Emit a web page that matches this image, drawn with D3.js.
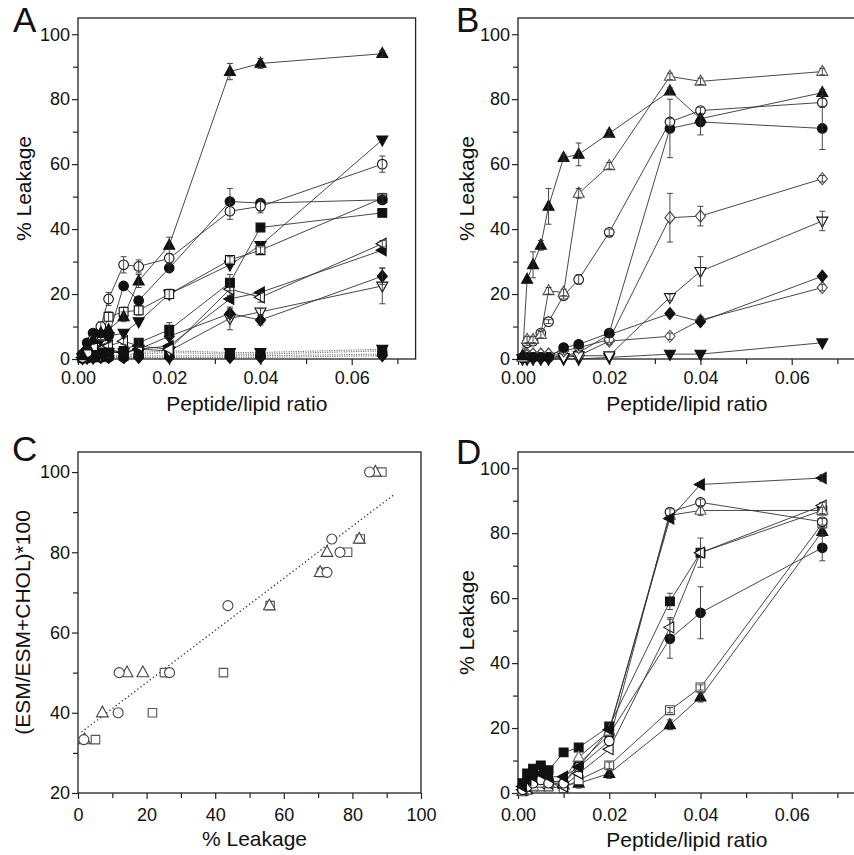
<!DOCTYPE html>
<html>
<head>
<meta charset="utf-8">
<script src="https://cdn.jsdelivr.net/npm/d3@7"></script>
<style>
  body { margin: 0; background: #fff; }
  svg text { font-family: "Liberation Sans", Arial, Helvetica, sans-serif; fill: #111; }
</style>
</head>
<body>
<div id="chart"></div>
<script>
const width = 854;
const height = 855;

// peptide/lipid ratios used in A, B and D
const ratioX = [0.001, 0.002, 0.0033, 0.005, 0.0067, 0.01, 0.0133, 0.02, 0.0333, 0.04, 0.0667];

// panel A (% leakage)
const aTriUpFill = [1, 4, 6, 8, 9, 13, 24, 35, 88.5, 91, 94];
const aTriUpFillErr = [0, 0, 0, 0, 0, 1.5, 2, 2.5, 2.5, 1.5, 1];
const aCircOpen = [0.5, 2, 6, 10, 18.5, 29, 28.5, 31, 45.5, 47, 60];
const aCircOpenErr = [0, 0, 0, 1.5, 2, 2.5, 2, 1.5, 2.5, 2, 2.5];
const aCircFill = [1.5, 5, 8, 8, 7, 22.5, 18, 28, 48.5, 48, 49];
const aCircFillErr = [0, 0, 0, 0, 0, 0, 0, 1, 4, 1, 1];
const aSqOpen = [0.5, 2, 4, 7, 13, 14.5, 15, 20, 30.5, 33.5, 49.5];
const aSqOpenErr = [0, 0, 0, 1, 1.5, 1.5, 1.5, 1.5, 1, 1, 1.5];
const aTriDownFill = [0.5, 2, 4, 6, 7, 8, 11.5, 20, 29, 35, 67.5];
const aSqFill = [0.5, 1, 1, 2, 2, 2.5, 5, 9, 23.5, 40.5, 45];
const aSqFillErr = [0, 0, 0, 0, 0, 0, 1.2, 2.2, 2.5, 0, 0];
const aTriLeftOpen = [0.5, 1, 2, 3, 4, 5.5, 4, 3, 21.5, 19, 35.5];
const aTriLeftOpenErr = [0, 0, 0, 0, 1, 1, 0, 0, 2, 1.5, 1];
const aTriLeftFill = [0.5, 1, 1, 1, 2, 2, 3, 4, 18.5, 20.5, 33.5];
const aDiamFill = [0.5, 1, 2, 3, 3, 2, 3, 7, 14, 12, 25.5];
const aDiamFillErr = [0, 0, 0, 0, 0, 0, 0, 0, 1.5, 1.5, 2.5];
const aTriDownOpen = [0.3, 1, 1, 1, 2, 2, 3, 2.5, 12.5, 14.5, 22.5];
const aTriDownOpenErr = [0, 0, 0, 0, 0, 0, 0, 0, 3.5, 1, 5.5];
const aDotSq = [0.3, 0.5, 0.5, 0.8, 1, 1, 1.5, 2, 1.5, 1.5, 2.5];
const aDotTri = [0.3, 0.5, 0.8, 1, 1, 1, 2, 2.5, 2, 2, 3];
const aDotCirc = [0.2, 0.3, 0.5, 0.5, 0.5, 0.5, 1, 1, 1, 1, 1.5];
const aDotDiam = [0.2, 0.3, 0.3, 0.5, 0.5, 0.5, 0.5, 0.5, 0.5, 0.5, 1];

// panel B
const bTriUpFill = [1, 24.5, 29, 35, 47, 62, 63, 69.5, 82.5, 74, 82];
const bTriUpFillErr = [0, 0, 4, 1.5, 5.5, 1, 3.5, 1, 1, 1, 1];
const bTriUpOpen = [0.5, 6, 6, 7.5, 21, 20.5, 51, 59.5, 87, 85.5, 88.5];
const bTriUpOpenErr = [0, 1, 1, 1, 1, 1, 1.5, 1, 1, 1, 1];
const bCircOpen = [0.5, 5, 5.5, 8, 11.5, 19.5, 24.5, 39, 73, 76.5, 79];
const bCircOpenErr = [0, 0.8, 0.8, 0.8, 0.6, 1, 1.5, 1, 1, 1, 1.2];
const bCircFill = [0.3, 0.5, 0.5, 0.5, 0.5, 3.5, 4.5, 8, 71, 73, 71];
const bCircFillErr = [0, 0, 0, 0, 0, 0, 0, 1, 9, 4, 6.5];
const bDiamOpen = [0.3, 1, 1.5, 1.5, 1.5, 2.5, 3.5, 6, 43.5, 44, 55.5];
const bDiamOpenErr = [0, 0.5, 0.5, 0.5, 0.5, 1, 1, 1, 7.5, 3, 1];
const bTriDownOpen = [0.2, 0.3, 0.3, 0.3, 0.3, 0.5, 1, 1, 19, 27, 42.5];
const bTriDownOpenErr = [0, 0, 0, 0, 0, 0, 0, 0, 1, 4.5, 3];
const bDiamFill = [0.3, 0.5, 0.5, 0.5, 0.5, 1, 2, 7.5, 14, 11.5, 25.5];
const bDiamOpen2 = [0.3, 1.5, 1.5, 1.5, 1.5, 1, 1, 5.5, 7, 12, 22];
const bDiamOpen2Err = [0, 0.5, 0.5, 0.5, 0.5, 0.5, 0.5, 1, 1, 1, 1];
const bTriDownFill = [0, 0, 0, 0, 0, 0, 0, 0.5, 1.5, 1.5, 5];

// panel C (scatter: % leakage vs ESM fraction)
const cEsmLevels = [50, 50, 40, 33.3, 66.7, 75, 80, 83.3, 100];
const cLeakCirc = [12, 26.7, 11.7, 1.7, 43.7, 72.6, 76.4, 74, 85];
const cLeakTri = [14.3, 18.9, 7.1, 1.9, 55.8, 70.6, 72.6, 82, 86.7];
const cLeakSq = [25.2, 42.4, 21.7, 5.1, 56, 71, 78.6, 82.3, 88.6];
const cFitX = [1, 92];
const cFitY = [35.2, 94.3];

// panel D
const dTriLeftFill = [2, 4, 5, 6, 5, 5, 8, 19.5, 84.5, 95, 97];
const dTriLeftFillErr = [0, 0, 0, 0, 0, 0, 0, 0, 0, 0, 1];
const dCircOpen = [1, 2, 3, 4, 3, 3, 8, 16, 86.5, 89.5, 83.5];
const dCircOpenErr = [0, 0, 0, 0, 0, 0, 0, 0, 1, 1, 1];
const dTriUpOpen = [1, 2, 2, 3, 3, 4, 11, 19, 85.5, 87, 87];
const dTriUpOpenErr = [0, 0, 0, 0, 0, 0, 0, 0, 1, 1.5, 1];
const dSqFill = [3, 6, 7.5, 8.5, 7, 12.5, 14, 20.5, 59, 74, 87];
const dSqFillErr = [0, 0, 0, 0, 0, 0, 0, 1, 2.5, 1, 1];
const dTriLeftOpen = [1, 2, 3, 3, 3, 2, 6, 13.5, 51, 74, 88.5];
const dTriLeftOpenErr = [0, 0, 0, 0, 0, 0, 0, 0, 3, 4.5, 1];
const dCircFill = [1, 3, 4, 5, 4, 3, 9, 18, 47.5, 55.5, 75.5];
const dCircFillErr = [0, 0, 0, 0, 0, 0, 0, 0, 6, 8, 4];
const dSqOpen = [0.5, 1, 2, 2, 2, 1.5, 4, 8.5, 25.5, 32.5, 83];
const dSqOpenErr = [0, 0, 0, 0, 0, 0, 0, 1, 0.8, 0.8, 1];
const dTriUpFill = [0.5, 1, 2, 3, 3, 2.5, 3, 6, 21, 29.5, 80.5];
const dTriUpFillErr = [0, 0, 0, 0, 0, 0, 1.5, 1.5, 1.5, 1.5, 1.5];

const ratioTicks = [0, 0.02, 0.04, 0.06];
const ratioMinor = [0.01, 0.03, 0.05, 0.07];
const leakTicks = [0, 20, 40, 60, 80, 100];
const leakMinor = [10, 30, 50, 70, 90];
const cYTicks = [20, 40, 60, 80, 100];
const cYMinor = [30, 50, 70, 90];

const svg = d3.select("#chart").append("svg")
  .attr("width", width).attr("height", height);

// marker shapes, s = half size
function markerPath(shape, s) {
  if (shape === "circle") return `M${s},0A${s},${s} 0 1,1 ${-s},0A${s},${s} 0 1,1 ${s},0Z`;
  if (shape === "square") { const h = s * 0.92; return `M${-h},${-h}H${h}V${h}H${-h}Z`; }
  if (shape === "diamond") return `M0,${-s * 1.25}L${s * 1.05},0L0,${s * 1.25}L${-s * 1.05},0Z`;
  if (shape === "triUp") return `M0,${-s * 1.3}L${s * 1.15},${s * 0.8}L${-s * 1.15},${s * 0.8}Z`;
  if (shape === "triDown") return `M0,${s * 1.3}L${s * 1.15},${-s * 0.8}L${-s * 1.15},${-s * 0.8}Z`;
  if (shape === "triLeft") return `M${-s * 1.3},0L${s * 0.8},${-s * 1.15}L${s * 0.8},${s * 1.15}Z`;
}

function drawPanel(p) {
  const x = d3.scaleLinear().domain(p.xDomain).range([p.left, p.right]);
  const y = d3.scaleLinear().domain(p.yDomain).range([p.bottom, p.top]);
  const g = svg.append("g");

  // axes
  const xAxis = g.append("g").attr("transform", `translate(0,${p.bottom})`)
    .call(d3.axisBottom(x).tickValues(p.xTicks).tickSize(6).tickPadding(2).tickFormat(p.xFormat));
  xAxis.selectAll("text").attr("y", p.xLabelDy).attr("dy", null).style("font-size", "18px");
  g.append("g").attr("transform", `translate(0,${p.bottom})`)
    .call(d3.axisBottom(x).tickValues(p.xMinor).tickSize(5).tickFormat(""));
  const yAxis = g.append("g").attr("transform", `translate(${p.left},0)`)
    .call(d3.axisLeft(y).tickValues(p.yTicks).tickSize(6).tickPadding(2));
  yAxis.selectAll("text").style("font-size", "18px");
  g.append("g").attr("transform", `translate(${p.left},0)`)
    .call(d3.axisLeft(y).tickValues(p.yMinor).tickSize(5).tickFormat(""));
  g.selectAll(".domain").remove();
  g.selectAll(".tick line").attr("stroke", "#222").attr("stroke-width", 1.2);

  g.append("rect")
    .attr("x", p.left).attr("y", p.top)
    .attr("width", p.right - p.left).attr("height", p.bottom - p.top)
    .attr("fill", "none").attr("stroke", "#222").attr("stroke-width", 1.3);

  // titles
  g.append("text").attr("x", (p.left + p.right) / 2 + (p.xTitleShift || 0)).attr("y", p.xTitleY)
    .attr("text-anchor", "middle").style("font-size", "21px").text(p.xTitle);
  g.append("text")
    .attr("transform", `translate(${p.yTitleX},${(p.top + p.bottom) / 2}) rotate(-90)`)
    .attr("text-anchor", "middle").style("font-size", "21px").text(p.yTitle);
  g.append("text").attr("x", p.letterX).attr("y", p.letterY)
    .style("font-size", "35px").text(p.letter);

  const plot = g.append("g");

  // connecting lines
  const line = d3.line().x(d => x(d[0])).y(d => y(d[1]));
  p.series.filter(s => s.line).forEach(s => {
    plot.append("path")
      .datum(s.xs.map((v, i) => [v, s.ys[i]]))
      .attr("d", line)
      .attr("fill", "none")
      .attr("stroke", s.dotted ? "#777" : "#333")
      .attr("stroke-width", s.dotted ? 1.1 : 0.9)
      .attr("stroke-dasharray", s.dotted ? "1.2,1.2" : null);
  });

  if (p.fit) {
    plot.append("path")
      .datum(p.fit.xs.map((v, i) => [v, p.fit.ys[i]]))
      .attr("d", line)
      .attr("fill", "none").attr("stroke", "#333")
      .attr("stroke-width", 1.3).attr("stroke-dasharray", "1.3,2.6");
  }

  // markers + error bars
  p.series.forEach(s => {
    const pts = s.xs.map((v, i) => ({ x: v, y: s.ys[i], e: s.err ? s.err[i] : 0 }));
    plot.append("g").selectAll("path")
      .data(pts).enter().append("path")
      .attr("transform", d => `translate(${x(d.x)},${y(d.y)})`)
      .attr("d", markerPath(s.shape, s.size || 4.8))
      .attr("fill", s.filled ? "#111" : "#fff")
      .attr("stroke", s.color || "#111")
      .attr("stroke-width", 1.1);
    const eb = plot.append("g").attr("stroke", "#333").attr("stroke-width", 0.9);
    pts.filter(d => d.e > 0).forEach(d => {
      const cx = x(d.x), y1 = y(d.y - d.e), y2 = y(d.y + d.e);
      eb.append("line").attr("x1", cx).attr("x2", cx).attr("y1", y1).attr("y2", y2);
      eb.append("line").attr("x1", cx - 3).attr("x2", cx + 3).attr("y1", y1).attr("y2", y1);
      eb.append("line").attr("x1", cx - 3).attr("x2", cx + 3).attr("y1", y2).attr("y2", y2);
    });
  });
}

const ratioFormat = d3.format(".2f");
const ratioSeries = (ys, shape, filled, err, extra) =>
  Object.assign({ xs: ratioX, ys: ys, shape: shape, filled: filled, err: err, line: true }, extra || {});

drawPanel({
  letter: "A", letterX: 13, letterY: 32,
  left: 78, right: 415.6, top: 18, bottom: 359,
  xDomain: [0, 0.074], yDomain: [0, 105],
  xTicks: ratioTicks, xMinor: ratioMinor, yTicks: leakTicks, yMinor: leakMinor,
  xFormat: ratioFormat, xLabelDy: 25,
  xTitle: "Peptide/lipid ratio", xTitleY: 411,
  yTitle: "% Leakage", yTitleX: 31,
  series: [
    ratioSeries(aDotCirc, "circle", true, null, { dotted: true }),
    ratioSeries(aDotDiam, "diamond", true, null, { dotted: true }),
    ratioSeries(aDotSq, "square", true, null, { dotted: true }),
    ratioSeries(aDotTri, "triDown", true, null, { dotted: true }),
    ratioSeries(aTriDownOpen, "triDown", false, aTriDownOpenErr),
    ratioSeries(aDiamFill, "diamond", true, aDiamFillErr),
    ratioSeries(aTriLeftFill, "triLeft", true, null),
    ratioSeries(aTriLeftOpen, "triLeft", false, aTriLeftOpenErr),
    ratioSeries(aSqFill, "square", true, aSqFillErr),
    ratioSeries(aTriDownFill, "triDown", true, null),
    ratioSeries(aSqOpen, "square", false, aSqOpenErr),
    ratioSeries(aCircFill, "circle", true, aCircFillErr),
    ratioSeries(aCircOpen, "circle", false, aCircOpenErr),
    ratioSeries(aTriUpFill, "triUp", true, aTriUpFillErr)
  ]
});

drawPanel({
  letter: "B", letterX: 456, letterY: 32,
  left: 518, right: 855.6, top: 18, bottom: 359,
  xDomain: [0, 0.074], yDomain: [0, 105],
  xTicks: ratioTicks, xMinor: ratioMinor, yTicks: leakTicks, yMinor: leakMinor,
  xFormat: ratioFormat, xLabelDy: 25,
  xTitle: "Peptide/lipid ratio", xTitleY: 411,
  yTitle: "% Leakage", yTitleX: 474,
  series: [
    ratioSeries(bTriDownFill, "triDown", true, null),
    ratioSeries(bDiamOpen2, "diamond", false, bDiamOpen2Err, { color: "#555" }),
    ratioSeries(bDiamFill, "diamond", true, null),
    ratioSeries(bTriDownOpen, "triDown", false, bTriDownOpenErr),
    ratioSeries(bDiamOpen, "diamond", false, bDiamOpenErr, { color: "#444" }),
    ratioSeries(bCircFill, "circle", true, bCircFillErr),
    ratioSeries(bCircOpen, "circle", false, bCircOpenErr),
    ratioSeries(bTriUpOpen, "triUp", false, bTriUpOpenErr, { color: "#555" }),
    ratioSeries(bTriUpFill, "triUp", true, bTriUpFillErr)
  ]
});

drawPanel({
  letter: "C", letterX: 12, letterY: 461,
  left: 78, right: 421, top: 452, bottom: 793,
  xDomain: [0, 100], yDomain: [20, 105],
  xTicks: [0, 20, 40, 60, 80, 100], xMinor: [10, 30, 50, 70, 90],
  yTicks: cYTicks, yMinor: cYMinor,
  xFormat: d3.format("d"), xLabelDy: 28,
  xTitle: "% Leakage", xTitleY: 846, xTitleShift: 5,
  yTitle: "(ESM/ESM+CHOL)*100", yTitleX: 30,
  fit: { xs: cFitX, ys: cFitY },
  series: [
    { xs: cLeakSq, ys: cEsmLevels, shape: "square", filled: false, color: "#555", size: 4.6 },
    { xs: cLeakTri, ys: cEsmLevels, shape: "triUp", filled: false, color: "#444", size: 5.1 },
    { xs: cLeakCirc, ys: cEsmLevels, shape: "circle", filled: false, color: "#444", size: 5 }
  ]
});

drawPanel({
  letter: "D", letterX: 456, letterY: 464,
  left: 518, right: 855.6, top: 452, bottom: 793,
  xDomain: [0, 0.074], yDomain: [0, 105],
  xTicks: ratioTicks, xMinor: ratioMinor, yTicks: leakTicks, yMinor: leakMinor,
  xFormat: ratioFormat, xLabelDy: 27.5,
  xTitle: "Peptide/lipid ratio", xTitleY: 847,
  yTitle: "% Leakage", yTitleX: 474,
  series: [
    ratioSeries(dTriUpFill, "triUp", true, dTriUpFillErr),
    ratioSeries(dSqOpen, "square", false, dSqOpenErr, { color: "#444" }),
    ratioSeries(dCircFill, "circle", true, dCircFillErr),
    ratioSeries(dSqFill, "square", true, dSqFillErr),
    ratioSeries(dTriLeftOpen, "triLeft", false, dTriLeftOpenErr),
    ratioSeries(dTriUpOpen, "triUp", false, dTriUpOpenErr, { color: "#666" }),
    ratioSeries(dCircOpen, "circle", false, dCircOpenErr),
    ratioSeries(dTriLeftFill, "triLeft", true, dTriLeftFillErr)
  ]
});
</script>
</body>
</html>
